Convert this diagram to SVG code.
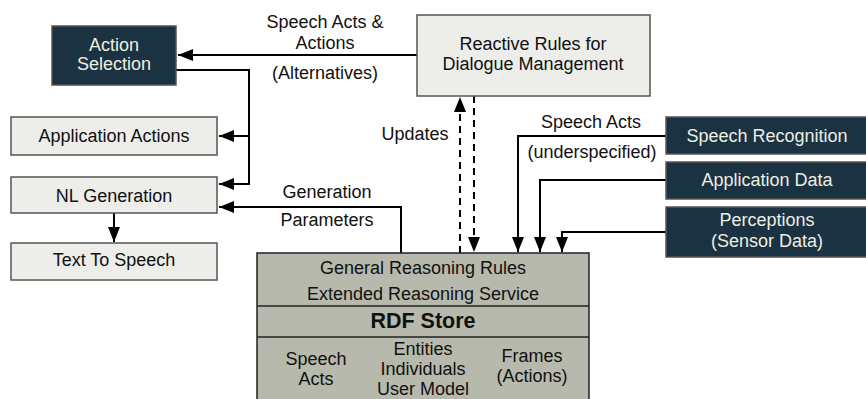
<svg xmlns="http://www.w3.org/2000/svg" width="866" height="399" viewBox="0 0 866 399">
  <defs>
    <style>
      text { font-family: "Liberation Sans", Arial, sans-serif; font-size: 18px; text-anchor: middle; fill: #111; }
      .light { fill: #ededE9; stroke: #555; stroke-width: 1.5; }
      .dark { fill: #1b3242; stroke: #555; stroke-width: 1.5; }
      .dark-t { fill: #eeeee0; }
      .store { fill: #b6b9ac; stroke: #222; stroke-width: 1.5; }
      .sep { stroke: #222; stroke-width: 1.5; }
      .bold { font-weight: bold; font-size: 21.5px; }
      .wire { fill: none; stroke: #000; stroke-width: 2; }
      .dash { stroke-dasharray: 7 5; }
    </style>
    <marker id="arrow" markerUnits="userSpaceOnUse" markerWidth="16" markerHeight="12" refX="15" refY="6" orient="auto">
      <path d="M0,0 L15,6 L0,12 z" fill="#000"/>
    </marker>
  </defs>

  <!-- connectors -->
  <g id="connectors">
    <path class="wire" d="M417,55 H178" marker-end="url(#arrow)"/>
    <path class="wire" d="M176,70 H249 V184 H219" marker-end="url(#arrow)"/>
    <path class="wire" d="M249,136 H219" marker-end="url(#arrow)"/>
    <path class="wire" d="M401,253 V207 H219" marker-end="url(#arrow)"/>
    <path class="wire" d="M114,213 V242" marker-end="url(#arrow)"/>
    <path class="wire dash" d="M460,253 V97" marker-end="url(#arrow)"/>
    <path class="wire dash" d="M474,96 V252" marker-end="url(#arrow)"/>
    <path class="wire" d="M666,136 H518 V252" marker-end="url(#arrow)"/>
    <path class="wire" d="M666,180 H540 V252" marker-end="url(#arrow)"/>
    <path class="wire" d="M666,232 H562 V252" marker-end="url(#arrow)"/>
    <!-- connector labels -->
    <text x="325" y="28">Speech Acts &amp;</text>
    <text x="325" y="49">Actions</text>
    <text x="325" y="79">(Alternatives)</text>
    <text x="415" y="140">Updates</text>
    <text x="591" y="128">Speech Acts</text>
    <text x="592" y="158">(underspecified)</text>
    <text x="327" y="198">Generation</text>
    <text x="327" y="226">Parameters</text>
  </g>

  <g id="action-selection">
    <rect class="dark" x="52" y="26" width="124" height="59"/>
    <text class="dark-t" x="114" y="51">Action</text>
    <text class="dark-t" x="114" y="70">Selection</text>
  </g>

  <g id="reactive-rules">
    <rect class="light" x="417" y="15" width="233" height="81"/>
    <text x="533" y="50">Reactive Rules for</text>
    <text x="533" y="70">Dialogue Management</text>
  </g>

  <g id="application-actions">
    <rect class="light" x="11" y="117" width="206" height="38"/>
    <text x="114" y="142">Application Actions</text>
  </g>

  <g id="nl-generation">
    <rect class="light" x="11" y="177" width="206" height="36"/>
    <text x="114" y="202">NL Generation</text>
  </g>

  <g id="text-to-speech">
    <rect class="light" x="11" y="243" width="206" height="37"/>
    <text x="114" y="266">Text To Speech</text>
  </g>

  <g id="speech-recognition">
    <rect class="dark" x="666" y="117" width="202" height="37"/>
    <text class="dark-t" x="767" y="142">Speech Recognition</text>
  </g>

  <g id="application-data">
    <rect class="dark" x="666" y="162" width="202" height="37"/>
    <text class="dark-t" x="767" y="186">Application Data</text>
  </g>

  <g id="perceptions">
    <rect class="dark" x="666" y="207" width="202" height="50"/>
    <text class="dark-t" x="767" y="226">Perceptions</text>
    <text class="dark-t" x="767" y="247">(Sensor Data)</text>
  </g>

  <g id="rdf-store">
    <rect class="store" x="257" y="253" width="332" height="152"/>
    <line class="sep" x1="257" y1="306" x2="589" y2="306"/>
    <line class="sep" x1="257" y1="337" x2="589" y2="337"/>
    <text x="423" y="274">General Reasoning Rules</text>
    <text x="423" y="300">Extended Reasoning Service</text>
    <text class="bold" x="423" y="328">RDF Store</text>
    <text x="316" y="365">Speech</text>
    <text x="316" y="385">Acts</text>
    <text x="423" y="355">Entities</text>
    <text x="423" y="375">Individuals</text>
    <text x="423" y="395">User Model</text>
    <text x="532" y="362">Frames</text>
    <text x="532" y="382">(Actions)</text>
  </g>
</svg>
